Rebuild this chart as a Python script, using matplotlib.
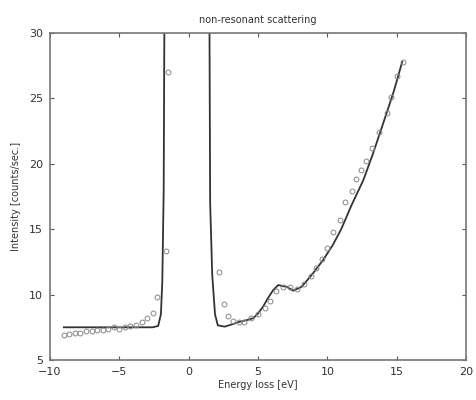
import matplotlib
matplotlib.use("Agg")
import matplotlib.pyplot as plt

# fitted curve
fit_x = [-9.0, -6.0, -4.0, -2.6, -2.2, -2.0, -1.9, -1.8, -1.75,
         1.5, 1.55, 1.7, 1.9, 2.1, 2.6, 3.2, 3.7, 4.2, 4.66, 5.0, 5.38, 5.7,
         6.1, 6.46, 6.8, 7.07, 7.54, 8.15, 8.87, 9.7, 10.4, 11.0, 11.75,
         12.6, 13.3, 14.03, 14.75, 15.0, 15.4]
fit_y = [7.5, 7.5, 7.5, 7.5, 7.6, 8.5, 11.0, 18.0, 31.0,
         31.0, 17.0, 11.5, 8.5, 7.65, 7.55, 7.75, 7.93, 8.05, 8.2, 8.55, 9.1, 9.7,
         10.35, 10.73, 10.65, 10.6, 10.3, 10.6, 11.5, 12.65, 13.8, 15.0, 16.85,
         18.76, 20.8, 23.1, 25.4, 26.3, 27.8]

# measured points
data_x = [-9.0, -8.6, -8.2, -7.8, -7.4, -7.0, -6.6, -6.2, -5.8, -5.4, -5.0,
          -4.6, -4.2, -3.8, -3.4, -3.0, -2.6, -2.25, -1.65, -1.5,
          2.2, 2.55, 2.86, 3.2, 3.6, 4.0, 4.5, 5.0, 5.5, 5.86, 6.3, 6.8, 7.3,
          7.8, 8.3, 8.8, 9.2, 9.6, 10.0, 10.4, 10.9, 11.3, 11.8, 12.1, 12.4,
          12.8, 13.2, 13.7, 14.3, 14.6, 15.0, 15.45]
data_y = [6.9, 7.0, 7.1, 7.1, 7.2, 7.2, 7.3, 7.3, 7.4, 7.5, 7.4,
          7.5, 7.6, 7.7, 7.9, 8.2, 8.6, 9.8, 13.3, 27.0,
          11.75, 9.3, 8.4, 8.0, 7.9, 7.9, 8.2, 8.5, 9.0, 9.5, 10.3, 10.6, 10.6,
          10.4, 10.8, 11.4, 12.0, 12.75, 13.6, 14.8, 15.7, 17.1, 17.9, 18.8, 19.5,
          20.2, 21.2, 22.45, 23.9, 25.1, 26.7, 27.8]

fig = plt.figure(figsize=(4.76, 4.0), dpi=100)
ax = fig.add_axes([0.105, 0.1, 0.874, 0.8175])
ax.plot(fit_x, fit_y, color="#333333", linewidth=1.3)
ax.plot(data_x, data_y, "o", markerfacecolor="none", markeredgecolor="#888888",
        markersize=3.5, markeredgewidth=0.7)

ax.set_xlim(-10, 20)
ax.set_ylim(5, 30)
ax.set_xticks([-10, -5, 0, 5, 10, 15, 20])
ax.set_yticks([5, 10, 15, 20, 25, 30])
ax.tick_params(direction="in", top=True, right=True, labelsize=8, length=3, pad=5,
               colors="#555555", labelcolor="#333333")
for s in ax.spines.values():
    s.set_color("#777777")
    s.set_linewidth(1.2)

ax.set_title("non-resonant scattering", fontsize=7, color="#333333", pad=7)
ax.set_xlabel("Energy loss [eV]", fontsize=7, color="#333333", labelpad=2)
ax.set_ylabel("Intensity [counts/sec.]", fontsize=7, color="#333333", labelpad=6)

fig.savefig("out.png", dpi=100)
